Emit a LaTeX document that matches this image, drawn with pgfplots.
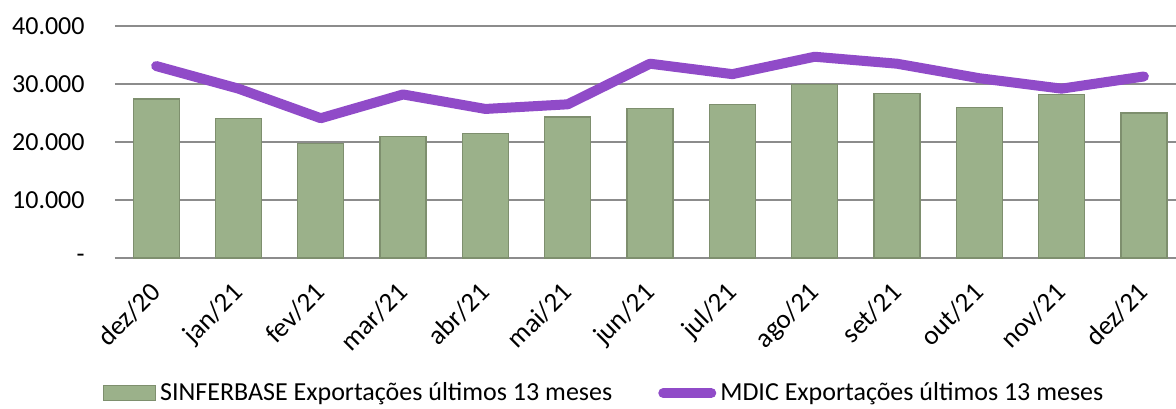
\documentclass[border=0pt]{standalone}
\usepackage{pgfplots}
\pgfplotsset{compat=1.18}
\usepackage{fontspec}
\setmainfont{Carlito}
\definecolor{barfill}{HTML}{9BB18A}
\definecolor{baredge}{HTML}{7E8F6E}
\definecolor{linepurple}{HTML}{904BC8}
\definecolor{gridgray}{HTML}{8C8C8C}
\pgfplotsset{
  barlegend/.style={legend image code/.code={\draw[##1] (0pt,-3.75pt) rectangle (26pt,3.75pt);}},
  linelegend/.style={legend image code/.code={\draw[##1] (2.5pt,0pt) -- (26.5pt,0pt);}},
}
\begin{document}
\begin{tikzpicture}[font=\fontsize{13pt}{15pt}\selectfont]
\begin{axis}[
  scale only axis,
  width=530.5pt, height=116pt,
  xmin=-0.5, xmax=12.39,
  ymin=0, ymax=40000,
  axis x line*=bottom,
  axis y line*=left,
  y axis line style={draw=none},
  x axis line style={draw=gridgray, line width=0.8pt},
  scaled y ticks=false,
  ytick={0,10000,20000,30000,40000},
  yticklabels={-,10.000,20.000,30.000,40.000},
  ymajorgrids,
  grid style={draw=gridgray, line width=0.8pt},
  xtick={0,...,12},
  xticklabels={dez/20,jan/21,fev/21,mar/21,abr/21,mai/21,jun/21,jul/21,ago/21,set/21,out/21,nov/21,dez/21},
  major tick length=0pt,
  xticklabel style={xshift=3pt, yshift=-18pt, rotate=45, anchor=base east, inner sep=0pt, font=\fontsize{13.5pt}{15pt}\selectfont},
  yticklabel style={anchor=east, inner sep=0pt, xshift=-15pt},
  clip=false,
  legend style={draw=none, fill=none, at={(0.462,-0.582)}, anchor=center,
    legend columns=2, column sep=0pt, inner sep=0pt,
    /tikz/every even column/.append style={column sep=21pt}},
  legend cell align=left,
]
\addplot[ybar, bar width=23pt, fill=barfill, draw=baredge, line width=0.6pt, bar shift=0pt,
  area legend, barlegend]
  coordinates {(0,27400) (1,24100) (2,19700) (3,20900) (4,21400) (5,24300) (6,25800) (7,26400) (8,29900) (9,28300) (10,26000) (11,28200) (12,25000)};
\addlegendentry{SINFERBASE Exportações últimos 13 meses}
\addplot[linepurple, line width=5pt, line cap=round, line join=round, mark=none, linelegend]
  coordinates {(0,33100) (1,29200) (2,24100) (3,28200) (4,25700) (5,26500) (6,33500) (7,31700) (8,34700) (9,33500) (10,31000) (11,29200) (12,31300)};
\addlegendentry{MDIC Exportações últimos 13 meses}
\end{axis}
\pgfresetboundingbox
\path (current axis.south west) ++(-57.5pt,-75pt) coordinate (bbsw);
\path (current axis.north east) ++(0pt,13pt) coordinate (bbne);
\useasboundingbox (bbsw) rectangle (bbne);
\end{tikzpicture}
\end{document}
